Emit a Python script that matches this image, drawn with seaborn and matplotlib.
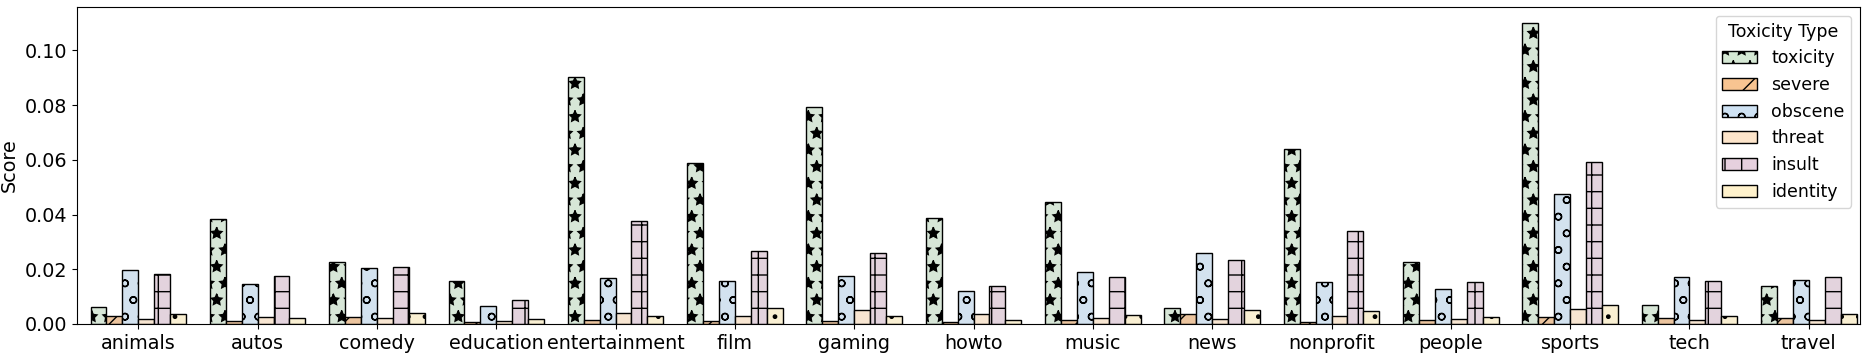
import pandas as pd
import matplotlib
matplotlib.use('Agg')
import matplotlib.pyplot as plt
from matplotlib.patches import Patch
import seaborn as sns

# categories and toxicity types
categories = ['animals', 'autos', 'comedy', 'education', 'entertainment', 'film',
              'gaming', 'howto', 'music', 'news', 'nonprofit', 'people',
              'sports', 'tech', 'travel']
types = ['toxicity', 'severe', 'obscene', 'threat', 'insult', 'identity']

# scores, one list per toxicity type
toxicity = [0.0063, 0.0383, 0.0228, 0.0156, 0.0904, 0.0589, 0.0792, 0.0389,
            0.0445, 0.0057, 0.0640, 0.0228, 0.1100, 0.0069, 0.0139]
severe = [0.0030, 0.0012, 0.0024, 0.0006, 0.0015, 0.0011, 0.0012, 0.0007,
          0.0013, 0.0035, 0.0006, 0.0013, 0.0024, 0.0021, 0.0021]
obscene = [0.0198, 0.0146, 0.0204, 0.0066, 0.0168, 0.0157, 0.0174, 0.0119,
           0.0191, 0.0258, 0.0152, 0.0126, 0.0474, 0.0171, 0.0160]
threat = [0.0019, 0.0024, 0.0021, 0.0011, 0.0040, 0.0029, 0.0051, 0.0036,
          0.0021, 0.0017, 0.0028, 0.0018, 0.0053, 0.0013, 0.0013]
insult = [0.0181, 0.0177, 0.0210, 0.0087, 0.0378, 0.0265, 0.0258, 0.0139,
          0.0171, 0.0233, 0.0339, 0.0152, 0.0593, 0.0156, 0.0171]
identity = [0.0038, 0.0021, 0.0039, 0.0018, 0.0029, 0.0058, 0.0029, 0.0015,
            0.0032, 0.0050, 0.0046, 0.0024, 0.0069, 0.0028, 0.0035]

colors = ['#d5e8d4', '#f8c491', '#cfe2f3', '#fde5cb', '#e6d0de', '#fff2cc']
hatches = ['*', '/', 'o', '', '+', '.']

series = [toxicity, severe, obscene, threat, insult, identity]
rows = []
for t, vals in zip(types, series):
    for c, v in zip(categories, vals):
        rows.append({'category': c, 'type': t, 'score': v})
df = pd.DataFrame(rows)

plt.rcParams['font.size'] = 13.75
plt.rcParams['hatch.linewidth'] = 1.0

fig, ax = plt.subplots(figsize=(18.67, 3.53), dpi=100)
sns.barplot(data=df, x='category', y='score', hue='type', order=categories,
            hue_order=types, palette=colors, edgecolor='black', linewidth=1,
            legend=False, ax=ax)

# hatch each hue level
for container, h in zip(ax.containers, hatches):
    for bar in container:
        bar.set_hatch(h)

handles = [Patch(facecolor=c, edgecolor='black', hatch=h, label=t)
           for c, h, t in zip(colors, hatches, types)]
ax.legend(handles=handles, title='Toxicity Type', loc='upper right',
          fontsize=12.5, title_fontsize=12.5)

ax.set_xlim(-0.516, 14.43)
ax.set_ylim(0, 0.1158)
ax.set_xlabel('')
ax.set_ylabel('Score')

plt.subplots_adjust(left=0.0411, right=0.9963, top=0.980, bottom=0.0822)
plt.savefig('out.png', dpi=100)
